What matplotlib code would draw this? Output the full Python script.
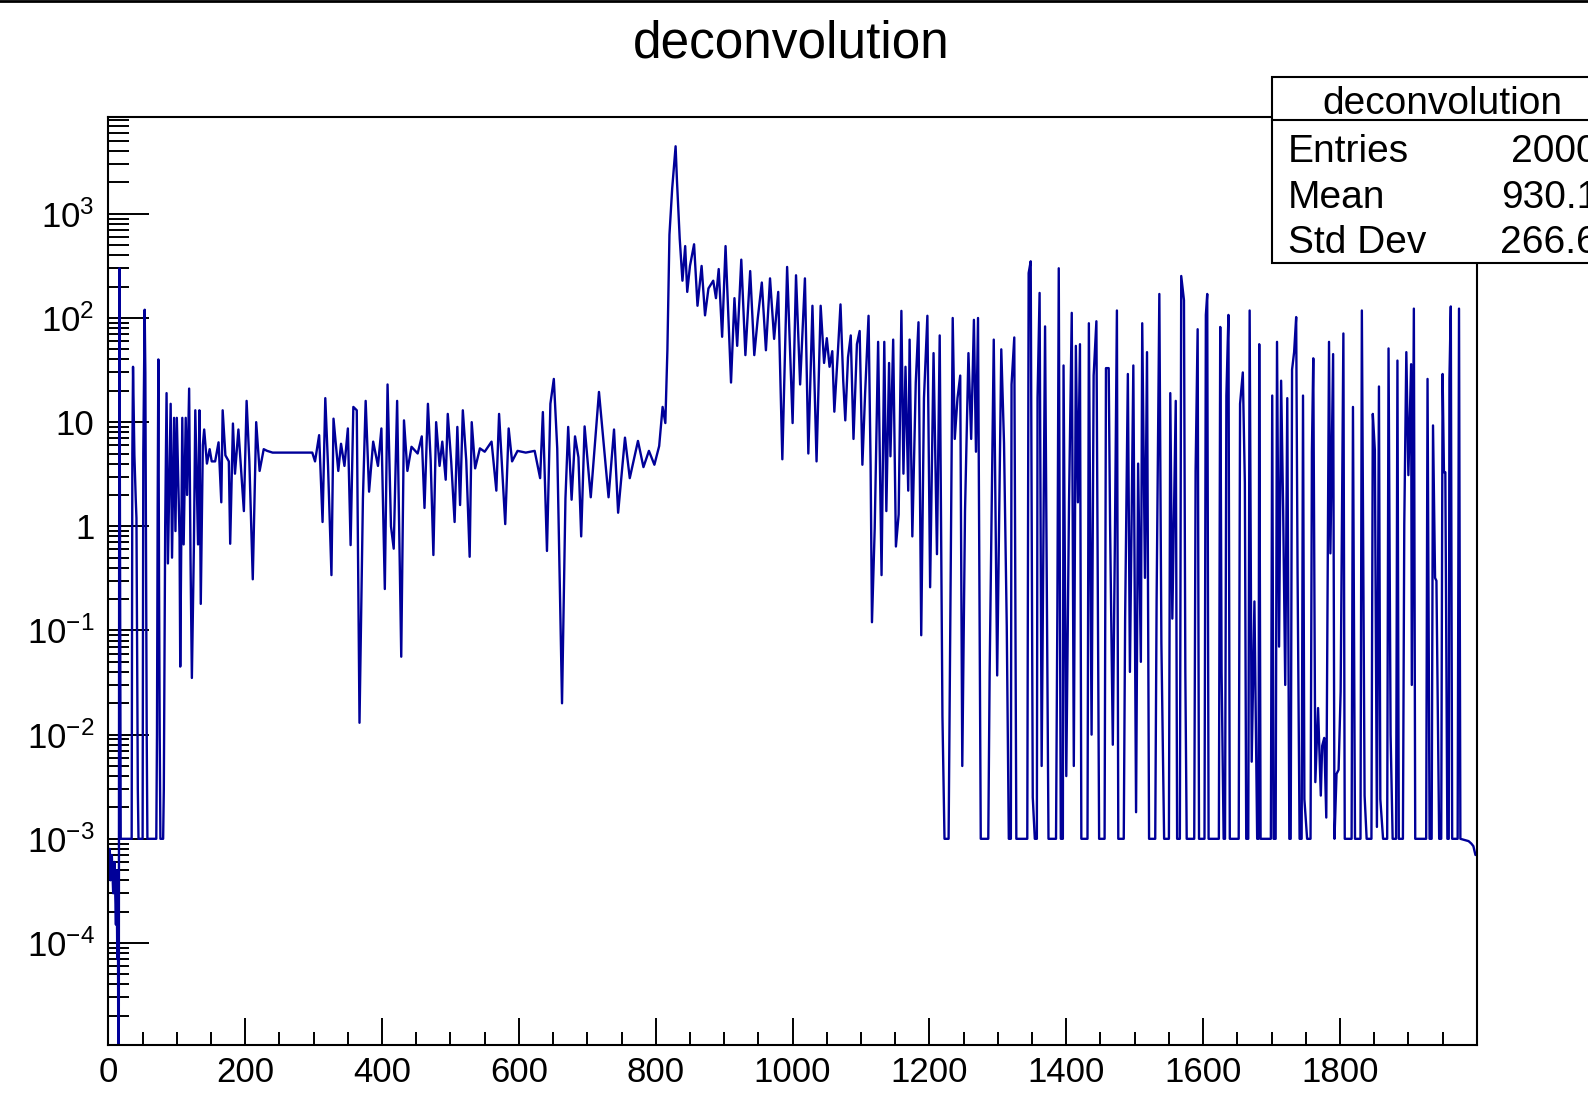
import matplotlib.pyplot as plt
from matplotlib.ticker import FixedLocator, MultipleLocator, LogLocator, NullFormatter
from matplotlib.patches import Rectangle
from matplotlib.lines import Line2D

plt.rcParams['font.family'] = ['Liberation Sans', 'DejaVu Sans']
plt.rcParams['mathtext.fontset'] = 'custom'
plt.rcParams['mathtext.rm'] = 'Liberation Sans'
plt.rcParams['mathtext.it'] = 'Liberation Sans:italic'

start = [(0, 7e-4), (2, 8e-4), (3, 4e-4), (5, 7e-4), (7, 3e-4), (9, 6e-4), (10, 3e-4),
         (11, 1.5e-4), (12, 5e-4), (13, 7e-5), (14, 2e-4), (15, 1e-7), (16, 300), (18, 1e-3),
         (34, 1e-3), (35, 5), (36, 34), (38, 4.8), (40, 1.8), (41, 1.2), (42, 0.05),
         (43, 3e-3), (44, 1e-3), (50, 1e-3), (51, 5), (53, 120), (54, 30), (55, 0.5),
         (56, 0.01), (57, 1e-3), (70, 1e-3), (71, 0.01), (72, 1.5), (73, 40), (74, 0.3),
         (75, 0.01), (76, 1e-3), (80, 1e-3), (81, 3e-3), (82, 0.05), (83, 1)]

noisy = [(85, 19), (87, 0.44), (91, 15), (93, 0.5), (96, 11), (98, 0.9), (100, 11),
         (104, 0.78), (105, 0.045), (108, 11), (110, 0.67), (113, 11), (115, 2), (118, 21),
         (120, 0.5), (122, 0.035), (125, 0.67), (127, 13), (131, 0.67), (133, 13), (135, 0.18),
         (138, 6), (140, 8.5), (144, 4), (148, 5.5), (151, 4.2), (156, 4.2), (161, 6.4),
         (165, 1.7), (167, 13), (171, 4.8), (176, 4.2), (178, 0.68), (182, 9.7), (185, 3.2),
         (190, 8.5), (194, 3.4), (198, 1.4), (202, 16), (206, 4.2), (211, 0.31), (216, 10),
         (221, 3.4), (227, 5.5), (232, 5.3), (240, 5.1)]

plateau = [(251, 5.1), (298, 5.1), (302, 4.2), (308, 7.5), (313, 1.1), (317, 17), (321, 3.8),
           (326, 0.34), (329, 10.8), (336, 3.4), (340, 6.2), (345, 3.8), (350, 8.7),
           (354, 0.66), (358, 14), (363, 13), (367, 0.013), (372, 1.85), (376, 16), (381, 2.15),
           (387, 6.5), (394, 3.8), (399, 8.7), (404, 0.25), (408, 23), (413, 1.0), (417, 0.61),
           (422, 16), (428, 0.056), (432, 10.4), (437, 3.4), (443, 5.8), (452, 5), (458, 7.3),
           (462, 1.5), (467, 15), (471, 4.3), (475, 0.53), (479, 10), (484, 3.8), (488, 6.5),
           (493, 2.8), (496, 12), (501, 4.2), (506, 1.1), (510, 9), (514, 1.6), (518, 13),
           (523, 4.3), (528, 0.51), (531, 10), (536, 3.6), (543, 5.6), (550, 5.2), (560, 6.5),
           (567, 2.2), (571, 12), (580, 1.05), (585, 8.7), (590, 4.2), (598, 5.3), (610, 5.1),
           (623, 5.3), (631, 2.9), (635, 12.5), (641, 0.58), (646, 15), (651, 26), (656, 5.6),
           (663, 0.02), (668, 1.85), (672, 9), (677, 1.8), (682, 7.3), (687, 4.6), (691, 0.8),
           (696, 9.1), (705, 1.9), (717, 19.5), (731, 1.9), (739, 8.5), (745, 1.35), (755, 7.1),
           (762, 2.9), (774, 6.6), (782, 3.7), (790, 5.3), (798, 3.9), (805, 5.9), (810, 14),
           (814, 9.8)]

peak = [(817, 49), (820, 630), (824, 1750), (829, 4450), (831, 2070), (835, 580), (839, 228),
        (843, 490), (846, 178), (850, 316), (856, 510), (861, 131), (867, 316), (872, 106),
        (877, 192), (884, 228), (888, 155), (892, 295), (897, 66), (902, 490), (910, 24),
        (915, 155), (919, 54), (925, 363), (931, 44), (938, 282), (944, 44), (949, 98),
        (955, 219), (961, 49), (967, 240), (973, 63), (979, 178), (985, 4.4), (992, 309),
        (1000, 9.8), (1005, 257), (1011, 23), (1018, 240), (1023, 5), (1029, 131), (1035, 4.2),
        (1041, 131), (1046, 37), (1050, 64), (1054, 34), (1058, 48), (1061, 12.6), (1066, 45),
        (1070, 135), (1074, 25), (1077, 10.4), (1081, 42), (1085, 68), (1089, 6.9), (1094, 56),
        (1098, 75), (1102, 3.9), (1106, 19), (1111, 105), (1114, 3.9), (1116, 0.12),
        (1120, 0.95), (1125, 59), (1130, 0.34), (1134, 59), (1137, 1.4), (1141, 37),
        (1143, 4.7), (1147, 62), (1151, 0.64), (1155, 1.3), (1159, 117), (1162, 3.2),
        (1165, 34), (1169, 2.2), (1171, 62), (1175, 0.8), (1180, 24), (1184, 91), (1188, 0.09),
        (1192, 17), (1197, 105), (1201, 0.26), (1206, 46), (1211, 0.54), (1215, 68),
        (1219, 0.015)]

tail_1 = [(1222, 1e-3), (1228, 1e-3), (1230, 0.045), (1234, 100), (1237, 6.9), (1241, 17),
          (1245, 28), (1248, 0.005), (1252, 1.4), (1257, 46), (1261, 6.9), (1265, 96),
          (1268, 5.2), (1271, 100), (1275, 1e-3), (1286, 1e-3), (1288, 0.04), (1294, 62),
          (1299, 0.037), (1305, 50), (1309, 6.3), (1313, 0.11), (1316, 1e-3), (1319, 1e-3),
          (1320, 23), (1324, 65), (1327, 1e-3), (1343, 1e-3), (1345, 270), (1348, 350),
          (1351, 0.0025), (1354, 1e-3), (1357, 1e-3), (1358, 17), (1361, 174), (1364, 0.005),
          (1369, 83), (1374, 1e-3), (1385, 1e-3), (1387, 0.17), (1389, 300), (1392, 1e-3),
          (1395, 1e-3), (1396, 35), (1400, 0.004), (1404, 1.7), (1408, 112), (1411, 0.005),
          (1414, 54), (1417, 1.7), (1420, 56), (1422, 1e-3), (1431, 1e-3), (1433, 89),
          (1437, 0.01), (1440, 28), (1444, 93), (1448, 1e-3), (1456, 1e-3), (1458, 33),
          (1462, 33), (1464, 1.05), (1468, 0.008), (1471, 0.66), (1474, 118), (1476, 1e-3),
          (1484, 1e-3), (1486, 0.13), (1490, 29), (1493, 0.04), (1498, 35), (1502, 0.0018),
          (1505, 4), (1509, 0.05), (1511, 89), (1515, 0.32), (1518, 47), (1521, 1e-3),
          (1530, 1e-3), (1532, 0.19), (1536, 170), (1539, 0.076), (1543, 1e-3), (1550, 1e-3),
          (1552, 19), (1555, 0.13), (1560, 16), (1562, 1e-3), (1566, 1e-3), (1568, 253),
          (1572, 148), (1574, 0.04), (1576, 1e-3), (1587, 1e-3), (1589, 3.4), (1592, 78),
          (1594, 1e-3), (1602, 1e-3), (1604, 107), (1606, 170), (1608, 1e-3)]

tail_2 = [(1623, 1e-3), (1625, 82), (1627, 0.04), (1630, 1e-3), (1632, 1e-3), (1634, 18),
          (1637, 107), (1639, 1e-3), (1652, 1e-3), (1654, 15), (1658, 30), (1661, 2.6),
          (1663, 1e-3), (1666, 1e-3), (1668, 118), (1671, 0.0055), (1675, 0.19), (1679, 1e-3),
          (1681, 1e-3), (1682, 56), (1684, 1e-3), (1699, 1e-3), (1701, 18), (1703, 1e-3),
          (1706, 1e-3), (1708, 59), (1711, 0.07), (1714, 25), (1717, 1.4), (1720, 0.03),
          (1723, 17), (1726, 1e-3), (1728, 1e-3), (1730, 32), (1733, 47), (1736, 102),
          (1738, 0.39), (1741, 1e-3), (1744, 1e-3), (1746, 18), (1748, 0.0024), (1752, 1e-3),
          (1757, 1e-3), (1759, 5.2), (1761, 41), (1764, 0.0035), (1768, 0.018), (1772, 0.0026),
          (1774, 0.0078), (1777, 0.0093), (1780, 0.0016), (1784, 59), (1786, 0.55), (1790, 45),
          (1792, 1e-3), (1795, 0.0042), (1798, 0.0046), (1801, 0.026), (1805, 71), (1807, 1e-3),
          (1817, 1e-3), (1819, 14), (1822, 1e-3), (1830, 1e-3), (1832, 118), (1836, 0.0026),
          (1839, 1e-3), (1846, 1e-3), (1848, 12), (1851, 5.4), (1854, 0.0013), (1857, 22),
          (1859, 0.0024), (1863, 1e-3), (1869, 1e-3), (1871, 51), (1874, 0.01), (1877, 1e-3),
          (1882, 1e-3), (1884, 39), (1886, 1e-3), (1892, 1e-3), (1894, 1.05), (1897, 47),
          (1900, 3.1), (1904, 36), (1905, 0.03), (1908, 123), (1910, 1e-3), (1926, 1e-3),
          (1928, 26), (1931, 1e-3), (1934, 1e-3), (1936, 9.3), (1939, 0.32), (1941, 0.3),
          (1945, 1e-3), (1948, 1e-3), (1950, 29), (1952, 3.3), (1954, 3.3), (1957, 1e-3),
          (1959, 1e-3), (1960, 26), (1962, 129), (1964, 1e-3), (1972, 1e-3), (1974, 123),
          (1976, 1e-3), (1988, 9.5e-4), (1992, 9e-4), (1995, 8.5e-4), (1998, 7e-4), (2000, 7e-4)]

title = "deconvolution"
stat_names = ["Entries", "Mean", "Std Dev"]
stat_values = ["2000", "930.1", "266.6"]
x_ticks = [0, 200, 400, 600, 800, 1000, 1200, 1400, 1600, 1800]
y_ticks = [1e-4, 1e-3, 1e-2, 1e-1, 1, 10, 1e2, 1e3]
y_labels = [r"$10^{-4}$", r"$10^{-3}$", r"$10^{-2}$", r"$10^{-1}$", "1", "10",
            r"$10^{2}$", r"$10^{3}$"]

points = start + noisy + plateau + peak + tail_1 + tail_2
bins = [p[0] for p in points]
counts = [p[1] for p in points]

W, H = 1588, 1095
fig = plt.figure(figsize=(W / 100, H / 100), dpi=100)
ax = fig.add_axes([108.4 / W, 1 - 1044.5 / H, (1476.8 - 108.4) / W, (1044.5 - 117) / H])

ax.plot(bins, counts, color='#000099', lw=1.7)

ax.set_xlim(0, 2000)
ax.set_yscale('log')
ax.set_ylim(1.06e-5, 8.5e3)

ax.xaxis.set_major_locator(FixedLocator(x_ticks))
ax.xaxis.set_minor_locator(MultipleLocator(50))
ax.yaxis.set_major_locator(FixedLocator(y_ticks))
ax.set_yticklabels(y_labels)
ax.yaxis.set_minor_locator(LogLocator(base=10, subs=range(2, 10), numticks=50))
ax.yaxis.set_minor_formatter(NullFormatter())

ax.tick_params(axis='both', which='both', direction='in', top=False, right=False,
               labelsize=25, width=1.4, color='black')
ax.tick_params(axis='x', which='major', length=19.5, pad=8.5)
ax.tick_params(axis='x', which='minor', length=9.7)
ax.tick_params(axis='y', which='major', length=29.5, pad=10)
ax.tick_params(axis='y', which='minor', length=15)
for s in ax.spines.values():
    s.set_linewidth(1.5)

fig.text(791.5 / W, 1 - 44 / H, title, ha='center', va='center', fontsize=37)

# stats box (runs off the right edge like the original)
fig.add_artist(Rectangle((1272 / W, 1 - 263 / H), 400 / W, (263 - 77) / H,
                         transform=fig.transFigure, facecolor='white', edgecolor='black',
                         lw=1.5, zorder=10))
fig.add_artist(Line2D([1272 / W, 1.05], [1 - 120 / H, 1 - 120 / H],
                      transform=fig.transFigure, color='black', lw=1.5, zorder=11))
fig.text(1442 / W, 1 - 104 / H, title, ha='center', va='center', fontsize=28, zorder=12)
for i, (name, val) in enumerate(zip(stat_names, stat_values)):
    y = 1 - (152 + 45.5 * i) / H
    fig.text(1288 / W, y, name, ha='left', va='center', fontsize=28, zorder=12)
    fig.text(1598 / W, y, val, ha='right', va='center', fontsize=28, zorder=12)

fig.add_artist(Line2D([0, 1], [0.999, 0.999], transform=fig.transFigure, color='black', lw=2))

fig.savefig('out.png', dpi=100)
